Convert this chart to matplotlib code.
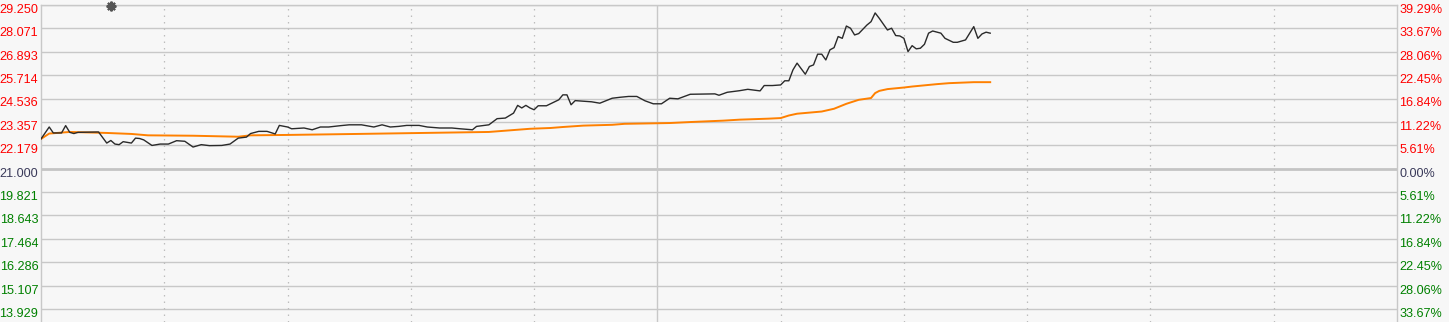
import numpy as np
import matplotlib
matplotlib.use("Agg")
import matplotlib.pyplot as plt
from matplotlib.transforms import ScaledTranslation

# 分时图数据 (分钟, 价格)
prev_close = 21.000
price_min = [0, 2, 3, 5, 6, 7, 8, 9, 14, 16, 17, 18, 19, 20, 22, 23, 24, 25, 27, 29,
             31, 33, 35, 37, 39, 41, 44, 46, 48, 50, 51, 53, 55, 57, 58, 60, 61, 64, 66, 68,
             70, 73, 75, 78, 81, 83, 85, 87, 89, 92, 94, 97, 100, 102, 105, 106, 109, 111, 113, 115,
             116, 117, 118, 119, 120, 121, 123, 126, 127, 128, 129, 130, 134, 136, 139, 141, 143, 145, 147, 149,
             151, 153, 155, 158, 164, 165, 167, 170, 172, 175, 176, 178, 180, 181, 182, 183, 184, 186, 187, 188,
             189, 190, 191, 192, 193, 194, 195, 196, 197, 198, 199, 201, 202, 203, 204, 206, 207, 208, 209, 210,
             211, 212, 213, 214, 215, 216, 217, 219, 220, 222, 223, 225, 226, 227, 228, 229, 230, 231]
price = [22.50, 23.10, 22.80, 22.80, 23.17, 22.83, 22.77, 22.83, 22.85, 22.29, 22.42, 22.24, 22.21, 22.36, 22.29, 22.54, 22.52, 22.45, 22.17, 22.24,
         22.24, 22.41, 22.38, 22.09, 22.21, 22.16, 22.17, 22.24, 22.54, 22.59, 22.77, 22.88, 22.88, 22.75, 23.18, 23.10, 23.01, 23.05, 22.96, 23.10,
         23.10, 23.17, 23.21, 23.21, 23.10, 23.21, 23.10, 23.13, 23.18, 23.18, 23.10, 23.05, 23.05, 23.01, 22.96, 23.13, 23.21, 23.52, 23.55, 23.80,
         24.19, 24.06, 24.19, 24.06, 23.97, 24.17, 24.17, 24.47, 24.72, 24.72, 24.22, 24.43, 24.37, 24.30, 24.55, 24.60, 24.64, 24.64, 24.42, 24.27,
         24.27, 24.55, 24.52, 24.75, 24.77, 24.70, 24.85, 24.93, 25.00, 24.92, 25.19, 25.19, 25.22, 25.43, 25.43, 25.98, 26.32, 25.76, 26.15, 26.23,
         26.77, 26.77, 26.48, 26.99, 27.10, 27.66, 27.57, 28.19, 28.08, 27.74, 27.81, 28.24, 28.41, 28.85, 28.58, 27.99, 28.08, 27.71, 27.69, 27.57,
         26.90, 27.20, 27.04, 27.07, 27.27, 27.83, 27.94, 27.83, 27.57, 27.37, 27.37, 27.49, 27.83, 28.16, 27.57, 27.79, 27.88, 27.83]

# 均价线
avg_min = [0, 2, 7, 16, 22, 26, 37, 48, 51, 60, 77, 93, 109, 114, 119, 124, 127, 132, 139, 142,
           153, 158, 166, 170, 177, 180, 182, 184, 190, 193, 196, 199, 202, 203, 204, 206, 210, 212, 218, 221,
           227, 231]
avg = [22.50, 22.77, 22.85, 22.80, 22.75, 22.68, 22.66, 22.61, 22.68, 22.70, 22.75, 22.80, 22.85, 22.93, 23.01, 23.05, 23.10, 23.17, 23.21, 23.26,
       23.30, 23.35, 23.42, 23.47, 23.52, 23.55, 23.68, 23.77, 23.88, 24.02, 24.27, 24.47, 24.56, 24.81, 24.92, 25.01, 25.09, 25.14, 25.26, 25.31,
       25.36, 25.36]

levels = [29.250, 28.071, 26.893, 25.714, 24.536, 23.357, 22.179, 21.000,
          19.821, 18.643, 17.464, 16.286, 15.107, 13.929]
left_labels = ["29.250", "28.071", "26.893", "25.714", "24.536", "23.357", "22.179", "21.000",
               "19.821", "18.643", "17.464", "16.286", "15.107", "13.929"]
right_labels = ["39.29%", "33.67%", "28.06%", "22.45%", "16.84%", "11.22%", "5.61%", "0.00%",
                "5.61%", "11.22%", "16.84%", "22.45%", "28.06%", "33.67%"]
total_min = 330   # 港股 9:30-12:00, 13:00-16:00
noon_min = 150
event_min = 17    # 资讯标记

bg = "#f7f7f7"
fig = plt.figure(figsize=(14.49, 3.22), dpi=100, facecolor=bg)
ax = fig.add_axes([41 / 1449, 0, 1356 / 1449, 317 / 322], facecolor=bg)
ax.set_xlim(0, total_min)
ax.set_ylim(13.27, 29.25)

for lv in levels:
    if lv == prev_close:
        ax.axhline(lv, color="#c4c4c4", lw=2.0, zorder=1)
    else:
        ax.axhline(lv, color="#c8c8c8", lw=1.0, zorder=1)
for m in range(30, total_min, 30):
    if m == noon_min:
        ax.axvline(m, color="#c8c8c8", lw=1.0, zorder=1)
    else:
        ax.axvline(m, color="#bdbdbd", lw=0.9, ls=(0, (1.2, 4)), zorder=1)

ax.plot(avg_min, avg, color="#ff8000", lw=1.4, zorder=3)
ax.plot(price_min, price, color="#2a2a2a", lw=1.0, zorder=4)
ax.plot([event_min], [29.20], marker=(8, 2, 0), ms=7, color="#555555",
        mew=1.5, clip_on=False, zorder=5)

for s in ["left", "right", "top"]:
    ax.spines[s].set_color("#c8c8c8")
    ax.spines[s].set_linewidth(1.0)
ax.spines["bottom"].set_visible(False)
ax.set_xticks([])


def label_color(i):
    if levels[i] > prev_close:
        return "#ff0000"
    if levels[i] < prev_close:
        return "#008000"
    return "#3a3a5a"


ax.set_yticks(levels)
ax.set_yticklabels(left_labels, fontfamily="Liberation Sans", fontsize=9.1)
ax.tick_params(axis="y", length=0, pad=2)
off = ScaledTranslation(0, -2.5 / 72, fig.dpi_scale_trans)
for i, t in enumerate(ax.get_yticklabels()):
    t.set_color(label_color(i))
    t.set_transform(t.get_transform() + off)

ax2 = ax.twinx()
ax2.set_ylim(ax.get_ylim())
ax2.set_yticks(levels)
ax2.set_yticklabels(right_labels, fontfamily="Liberation Sans", fontsize=9.1)
ax2.tick_params(axis="y", length=0, pad=1.5)
for s in ax2.spines.values():
    s.set_visible(False)
for i, t in enumerate(ax2.get_yticklabels()):
    t.set_color(label_color(i))
    t.set_transform(t.get_transform() + off)

fig.savefig("out.png", dpi=100, facecolor=bg)
